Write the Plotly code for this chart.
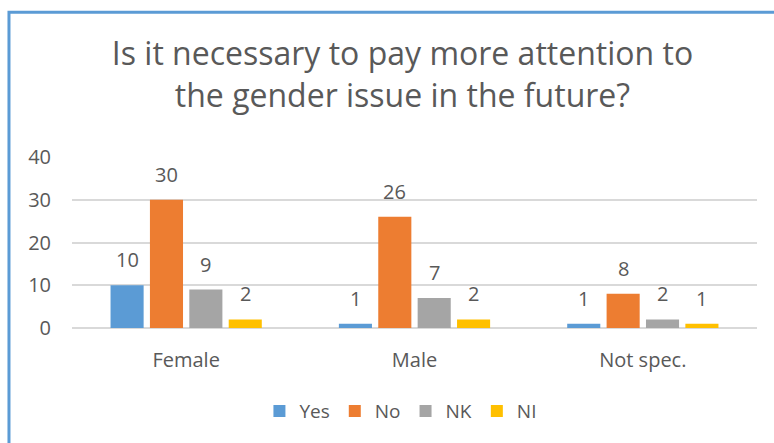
import plotly.graph_objects as go

categories = ["Female", "Male", "Not spec."]
series_names = ["Yes", "No", "NK", "NI"]
yes_vals = [10, 1, 1]
no_vals = [30, 26, 8]
nk_vals = [9, 7, 2]
ni_vals = [2, 2, 1]
colors = ["#5B9BD5", "#ED7D31", "#A5A5A5", "#FFC000"]
y_ticks = [0, 10, 20, 30, 40]

FONT = "Open Sans"
TXT = "#595959"
BARGAP = 0.31
all_vals = [yes_vals, no_vals, nk_vals, ni_vals]

fig = go.Figure()
for name, vals, col in zip(series_names, all_vals, colors):
    fig.add_trace(go.Bar(
        name=name, x=categories, y=vals, marker=dict(color=col, line=dict(width=0)),
    ))

# data labels placed above each bar using the axis scales
n = len(series_names)
slot = (1 - BARGAP) / n
for si, vals in enumerate(all_vals):
    off = (si - (n - 1) / 2) * slot
    for ci, v in enumerate(vals):
        fig.add_annotation(
            x=ci + off, y=v, xref="x", yref="y", text=str(v), showarrow=False,
            yanchor="bottom", yshift=10,
            font=dict(family=FONT, size=20, color=TXT),
        )

fig.update_layout(
    width=774, height=443,
    margin=dict(l=72, r=17, t=157, b=115),
    paper_bgcolor="white", plot_bgcolor="white",
    barmode="group", bargap=BARGAP, bargroupgap=0.16,
    title=dict(
        text="Is it necessary to pay more attention to<br>the gender issue in the future?",
        x=0.52, xref="container", xanchor="center",
        y=0.853, yref="container", yanchor="middle",
        font=dict(family=FONT, size=32, color=TXT),
    ),
    font=dict(family=FONT, color=TXT),
    legend=dict(
        orientation="h", x=0.518, xref="container", xanchor="center",
        y=0.072, yref="container", yanchor="middle",
        font=dict(family=FONT, size=19, color=TXT),
        itemwidth=30, traceorder="normal",
    ),
    showlegend=True,
)
fig.update_xaxes(
    showgrid=False, showline=False, zeroline=False,
    ticks="outside", ticklen=14, tickcolor="rgba(0,0,0,0)",
    tickfont=dict(family=FONT, size=20, color=TXT),
)
fig.update_yaxes(
    range=[0, 40], tickvals=y_ticks, showgrid=True, gridcolor="#D9D9D9", gridwidth=1.5,
    zeroline=True, zerolinecolor="#D9D9D9", zerolinewidth=1.5,
    showline=False, ticklabelstandoff=20,
    tickfont=dict(family=FONT, size=20, color=TXT),
)
fig.add_shape(type="rect", xref="paper", yref="paper",
              x0=-0.092, x1=1.2, y0=-1.0, y1=1.847,
              line=dict(color="#5B9BD5", width=3), fillcolor="rgba(0,0,0,0)", layer="above")

fig.write_html("out.html", config={"displayModeBar": False},
               post_script="document.body.style.margin='0px';")
